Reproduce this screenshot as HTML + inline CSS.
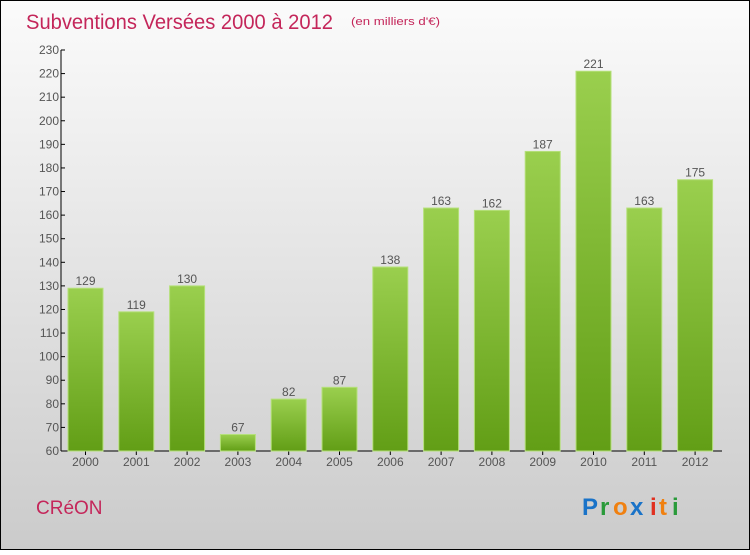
<!DOCTYPE html>
<html><head><meta charset="utf-8"><style>
html,body{margin:0;padding:0}
body{width:750px;height:550px;overflow:hidden;font-family:"Liberation Sans",sans-serif}
</style></head><body>
<svg id="chart" width="750" height="550" xmlns="http://www.w3.org/2000/svg">
<defs>
<linearGradient id="bg" x1="0" y1="0" x2="0" y2="1"><stop offset="0" stop-color="#fbfbfb"/><stop offset="1" stop-color="#cbcbcb"/></linearGradient>
<linearGradient id="bar" x1="0" y1="0" x2="0" y2="1"><stop offset="0" stop-color="#9acf4e"/><stop offset="1" stop-color="#629e16"/></linearGradient>
</defs>
<rect x="0.5" y="0.5" width="749" height="549" fill="url(#bg)" stroke="#000"/>
<text x="26" y="29" font-size="21" fill="#c4265a" textLength="307" lengthAdjust="spacingAndGlyphs">Subventions Versées 2000 à 2012</text>
<text x="351" y="25" font-size="11" fill="#c4265a" textLength="89" lengthAdjust="spacingAndGlyphs">(en milliers d'€)</text>
<text x="36" y="514" font-size="19" fill="#c4265a">CRéON</text>
<g font-size="24" font-weight="bold">
<text x="582" y="515" fill="#1a73c8">P</text><text x="600" y="515" fill="#2a9a3a">r</text><text x="613" y="515" fill="#f08010">o</text><text x="630" y="515" fill="#1a73c8">x</text><text x="650" y="515" fill="#e03020">i</text><text x="659" y="515" fill="#f08010">t</text><text x="672" y="515" fill="#2a9a3a">i</text>
</g>
<g id="axes"></g>
<g id="bars"></g>
</svg>
<script>
const years = ["2000","2001","2002","2003","2004","2005","2006","2007","2008","2009","2010","2011","2012"];
const values = [129,119,130,67,82,87,138,163,162,187,221,163,175];
const yTicks = [60,70,80,90,100,110,120,130,140,150,160,170,180,190,200,210,220,230];
const NS="http://www.w3.org/2000/svg";
const y0=451,y1=50,vMin=60,vMax=230,axisX=61;
function y(v){return y0-(v-vMin)/(vMax-vMin)*(y0-y1);}
function xc(i){return 85.5+i*50.8;}
function mk(t,a,p){const e=document.createElementNS(NS,t);for(const k in a)e.setAttribute(k,a[k]);p.appendChild(e);return e;}
const ax=document.getElementById('axes'),bars=document.getElementById('bars');
let l=mk('line',{x1:axisX,y1:y1,x2:axisX,y2:y0,stroke:'#000'},ax);


l=mk('line',{x1:axisX,y1:y0,x2:722,y2:y0,stroke:'#000'},ax);


yTicks.forEach(v=>{
  const tk=mk('line',{x1:axisX,y1:y(v),x2:axisX+4,y2:y(v),stroke:'#000'},ax);
  
  
  const t=mk('text',{x:axisX-2,y:y(v)+4,'font-size':12,fill:'#555','text-anchor':'end'},ax);
  t.textContent=v;
  
  
});
years.forEach((yr,i)=>{
  const tk=mk('line',{x1:xc(i),y1:y0,x2:xc(i),y2:y0+4,stroke:'#000'},ax);
  
  
  const t=mk('text',{x:xc(i),y:y0+15,'font-size':12,fill:'#555','text-anchor':'middle'},ax);
  t.textContent=yr;
  
  
  const v=values[i];
  const r=mk('rect',{x:xc(i)-17.5,y:y(v),width:35,height:y0-y(v),fill:'url(#bar)',stroke:'#b5e07a','stroke-width':1},bars);
  
  
  const vl=mk('text',{x:xc(i),y:y(v)-3,'font-size':12,fill:'#555','text-anchor':'middle'},bars);
  vl.textContent=v;
  
  
});
</script>
</body></html>
